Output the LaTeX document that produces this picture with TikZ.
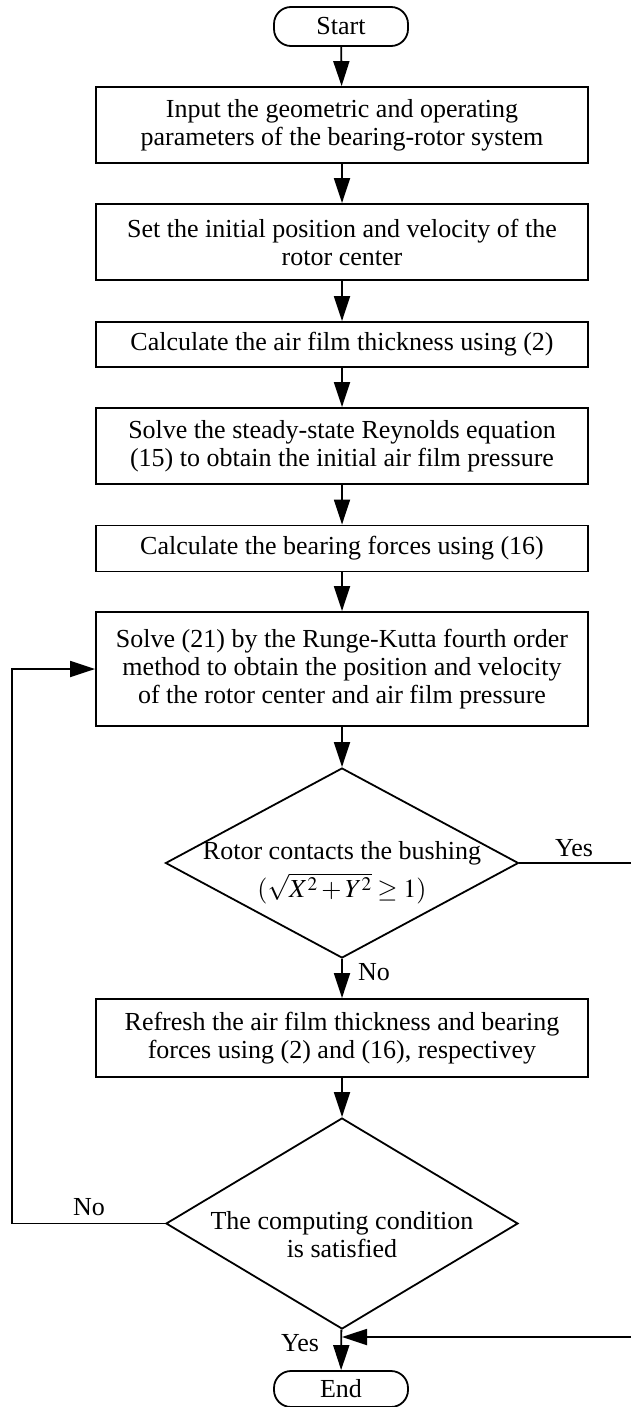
\documentclass[tikz,border=0pt]{standalone}
\usepackage{mathptmx}
\usepackage{fontspec}
\setmainfont{Liberation Serif}
\usetikzlibrary{shapes.geometric,arrows.meta}
\begin{document}
\begin{tikzpicture}[x=1pt,y=-1pt,line width=1.8pt,
  txt/.style={font=\fontsize{26}{28}\selectfont},
  box/.style={txt,draw,rectangle,minimum width=492pt,inner sep=0pt,align=center},
  term/.style={txt,draw,rectangle,rounded corners=17pt,minimum width=134pt,inner sep=0pt},
  decision/.style={draw,diamond,inner sep=0pt},
  dtext/.style={txt,align=center,inner sep=0pt},
  lbl/.style={txt,inner sep=0pt},
  arr/.style={-{Triangle[length=25pt,width=16pt]}}]
\useasboundingbox (0,0) rectangle (631,1407);
\node[term,minimum height=39pt] (start) at (341,26.5) {Start};
\node[box,minimum height=76pt] (b1) at (342,125) {Input the geometric and operating\\parameters of the bearing-rotor system};
\node[box,minimum height=76pt] (b2) at (342,242) {Set the initial position and velocity of the\\rotor center};
\node[box,minimum height=45pt] (b3) at (342,344.5) {Calculate the air film thickness using (2)};
\node[box,minimum height=76pt] (b4) at (342,446) {Solve the steady-state Reynolds equation\\(15) to obtain the initial air film pressure};
\node[box,minimum height=46pt] (b5) at (342,548.5) {Calculate the bearing forces using (16)};
\node[box,minimum height=114pt] (b6) at (342,669) {Solve (21) by the Runge-Kutta fourth order\\method to obtain the position and velocity\\of the rotor center and air film pressure};
\node[decision,minimum width=353pt,minimum height=190pt] (d1) at (342,863) {};
\node[dtext] (d1t) at (342,873) {Rotor contacts the bushing\\[7pt]$(\sqrt{X^{2}+Y^{2}}\geq 1)$};
\node[box,minimum height=78pt] (b7) at (342,1038) {Refresh the air film thickness and bearing\\forces using (2) and (16), respectivey};
\node[decision,minimum width=352pt,minimum height=211pt] (d2) at (342,1223.5) {};
\node[dtext] (d2t) at (342,1235) {The computing condition\\is satisfied};
\node[term,minimum height=36pt] (end) at (341,1389) {End};
\coordinate (lp) at (12,1223.5);
\coordinate (ry) at (631,863);
\coordinate (rr) at (631,1337);
\coordinate (jn) at (342,1337);
\draw[arr] (start) -- (b1);
\draw[arr] (b1) -- (b2);
\draw[arr] (b2) -- (b3);
\draw[arr] (b3) -- (b4);
\draw[arr] (b4) -- (b5);
\draw[arr] (b5) -- (b6);
\draw[arr] (b6) -- (d1);
\draw[arr] (d1) -- (b7);
\draw[arr] (b7) -- (d2);
\draw[arr] (d2) -- (end);
\draw[arr] (d2.west) -- (lp) |- (b6.west);
\draw (d1.east) -- (ry);
\draw[arr] (rr) -- (jn);
\node[lbl] (yes1) at (574,848) {Yes};
\node[lbl] (no1) at (374,972) {No};
\node[lbl] (no2) at (89,1207) {No};
\node[lbl] (yes2) at (300,1343) {Yes};
\end{tikzpicture}
\end{document}
